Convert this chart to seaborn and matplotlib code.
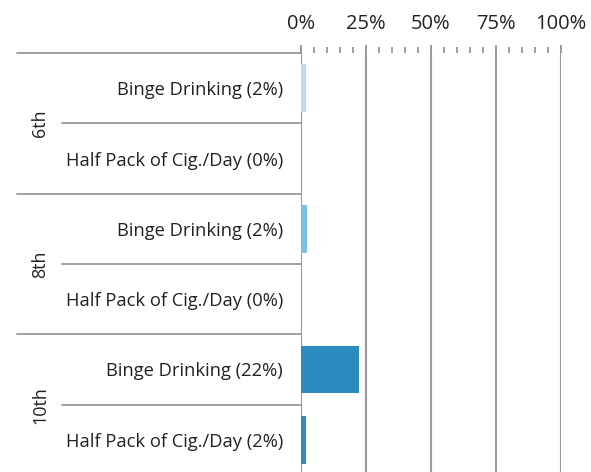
import pandas as pd
import matplotlib.pyplot as plt
import seaborn as sns

# data
grades = ['6th', '6th', '8th', '8th', '10th', '10th']
measures = ['Binge Drinking', 'Half Pack of Cig./Day',
            'Binge Drinking', 'Half Pack of Cig./Day',
            'Binge Drinking', 'Half Pack of Cig./Day']
values = [2.0, 0.0, 2.4, 0.0, 22.3, 1.8]
grade_colors = {'6th': '#b9dbea', '8th': '#7bbfe4', '10th': '#2b8bbf'}
x_ticks = [0, 25, 50, 75, 100]

df = pd.DataFrame({'grade': grades, 'measure': measures, 'value': values})
df['row'] = [f'{g}|{m}' for g, m in zip(grades, measures)]
df['label'] = [f'{m} ({v:.0f}%)' for m, v in zip(measures, values)]

sns.set_style('white')
plt.rcParams['font.family'] = ['Open Sans', 'DejaVu Sans']

fig = plt.figure(figsize=(5.91, 4.72), dpi=100)
ax = fig.add_axes([301 / 591, -3 / 472, 260 / 591, 422 / 472])

sns.barplot(data=df, x='value', y='row', hue='grade', palette=grade_colors,
            order=list(df['row']), dodge=False, width=0.68, linewidth=0,
            saturation=1, legend=False, ax=ax)

ax.set_xlim(0, 100)
ax.set_ylim(5.5, -0.5)
ax.set_xlabel('')
ax.set_ylabel('')

# top axis with percent labels
ax.xaxis.tick_top()
ax.set_xticks(x_ticks)
ax.set_xticklabels([f'{t}%' for t in x_ticks])
ax.set_xticks(range(0, 101, 5), minor=True)
ax.tick_params(axis='x', which='major', length=6, width=1.4, color='#999999',
               pad=8, labelsize=14.5, labelcolor='#222222')
ax.tick_params(axis='x', which='minor', length=4.5, width=1.4, color='#a0a0a0')
for t in x_ticks:
    ax.axvline(t, color='#999999', lw=1.5, zorder=0)

# row labels
ax.set_yticks(range(len(df)))
ax.set_yticklabels(df['label'])
ax.tick_params(axis='y', length=0, pad=13, labelsize=13.2, labelcolor='#222222')

for s in ax.spines.values():
    s.set_visible(False)

# separators left of the plot
for y in [-0.5, 1.5, 3.5, 5.5]:
    ax.axhline(y, xmin=(17 - 301) / 260, xmax=0, color='#999999', lw=1.3, clip_on=False)
for y in [0.5, 2.5, 4.5]:
    ax.axhline(y, xmin=(62 - 301) / 260, xmax=0, color='#999999', lw=1.3, clip_on=False)

# grade labels
trans = ax.get_yaxis_transform()
for i, g in enumerate(['6th', '8th', '10th']):
    ax.text((40 - 301) / 260, 2 * i + 0.5, g, rotation=90, ha='center', va='center',
            fontsize=13, color='#222222', transform=trans)

fig.savefig('out.png', dpi=100)
